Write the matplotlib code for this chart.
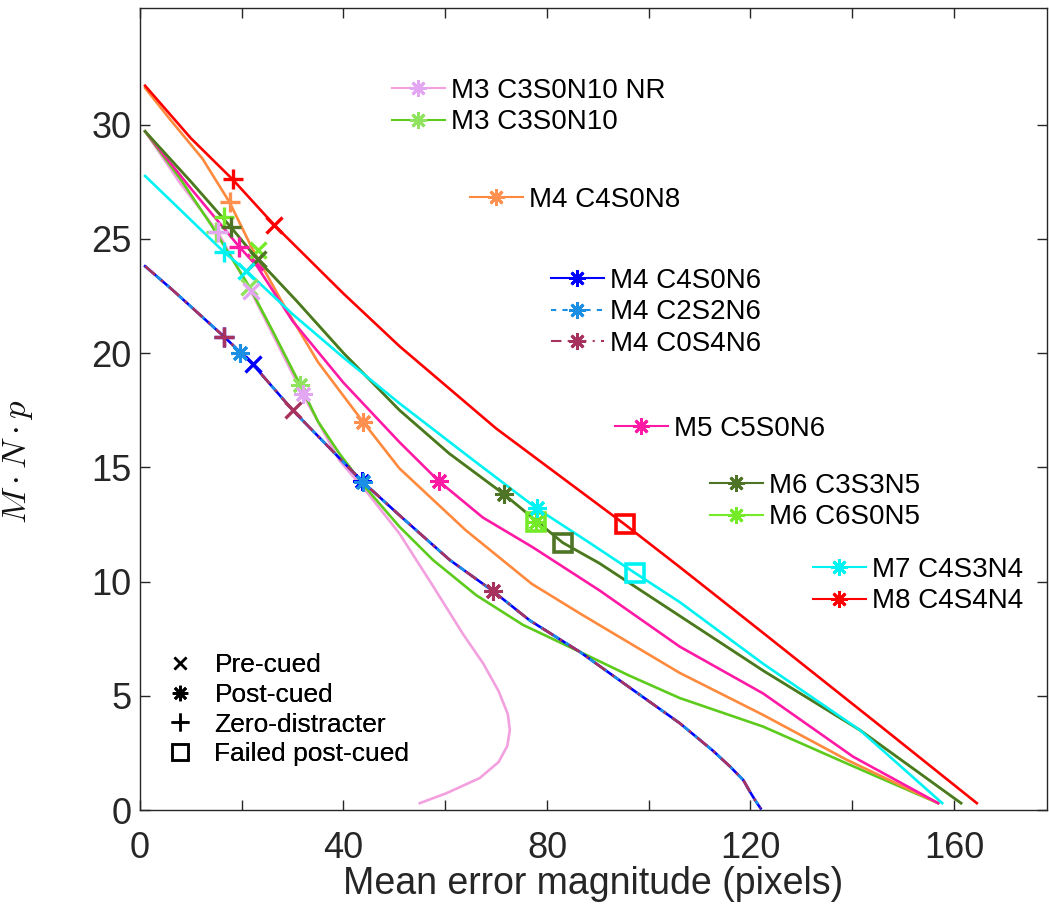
import matplotlib
matplotlib.use("Agg")
import matplotlib.pyplot as plt
from matplotlib.lines import Line2D

plt.rcParams["font.family"] = ["Liberation Sans", "DejaVu Sans"]
plt.rcParams["mathtext.fontset"] = "cm"

W, H = 1049, 919
ASTER = (8, 2, 0)   # 8-arm asterisk like MATLAB '*'

# ── curves: mean error (pixels) vs M*N*p ──────────────────────────
m3nr_x = [1, 8, 15.3, 22.5, 32, 39.2, 45, 51, 57.6, 63.5, 67.5, 70.5, 72.3, 72.7, 72.2, 70.5, 66.8, 60.2, 55]
m3nr_y = [29.7, 27.4, 25.3, 22.4, 18.2, 15.3, 13.8, 12.1, 9.8, 7.7, 6.4, 5.2, 4.2, 3.5, 2.8, 2.1, 1.4, 0.73, 0.3]

m3_x = [1, 8, 14, 21.5, 26, 31.5, 35, 39.2, 44, 51, 57.6, 66.1, 75.3, 86.4, 96, 106.1, 122.5, 138.9, 156.9]
m3_y = [29.7, 27.6, 25.6, 22.9, 21.0, 18.6, 17.0, 15.6, 14.2, 12.4, 10.94, 9.4, 8.1, 6.93, 5.9, 4.9, 3.65, 2.04, 0.3]

m4n8_x = [1, 6, 12.3, 17.6, 22, 28, 35, 43.8, 51, 64, 77, 86.5, 106.1, 122.5, 138.9, 156.9]
m4n8_y = [31.6, 30.2, 28.5, 26.6, 24.6, 22.2, 19.6, 17.0, 14.95, 12.25, 9.9, 8.6, 6.0, 4.16, 2.2, 0.3]

m4n6_x = [1, 6.4, 16.6, 22.2, 30, 43.6, 51, 60.9, 69.4, 76.6, 86.4, 96, 106.1, 112.6, 116, 118.6, 119.9, 121, 122]
m4c4_y = [23.8, 22.76, 20.7, 19.5, 17.5, 14.4, 12.9, 10.94, 9.58, 8.3, 6.93, 5.4, 3.8, 2.6, 1.9, 1.31, 0.8, 0.4, 0.07]
m4c2_y = [23.8, 22.76, 20.7, 19.5, 17.5, 14.4, 12.9, 10.94, 9.58, 8.3, 6.93, 5.4, 3.8, 2.6, 1.9, 1.31, 0.8, 0.4, 0.07]
m4c0_y = [23.8, 22.76, 20.7, 19.5, 17.5, 14.4, 12.9, 10.94, 9.58, 8.3, 6.93, 5.4, 3.8, 2.6, 1.9, 1.31, 0.8, 0.4, 0.07]

m5_x = [1, 10, 19.5, 23, 30, 40, 51, 58.7, 67.4, 77.2, 90.4, 106.1, 122.5, 140.2, 156.9]
m5_y = [29.7, 27.2, 24.65, 23.8, 21.4, 18.7, 16.1, 14.4, 12.8, 11.5, 9.6, 7.15, 5.1, 2.33, 0.3]

m6c6_x = [1, 10, 17.9, 23.1, 30.7, 40, 51, 60.8, 71.5, 83.1, 90.3, 106.4, 122.5, 141.5, 161.4]
m6c6_y = [29.7, 27.5, 25.5, 24.1, 22.3, 20.0, 17.5, 15.6, 13.83, 11.7, 10.8, 8.45, 6.1, 3.5, 0.3]

m6c3_x = [1, 10, 17.9, 23.1, 30.7, 40, 51, 60.8, 71.5, 83.1, 90.3, 106.4, 122.5, 141.5, 161.4]
m6c3_y = [29.7, 27.5, 25.5, 24.1, 22.3, 20.0, 17.5, 15.6, 13.83, 11.7, 10.8, 8.45, 6.1, 3.5, 0.3]

m7_x = [1, 8, 16.6, 20.9, 30, 40, 51, 65, 78, 88, 97.4, 106.1, 122.5, 141.5, 157.7]
m7_y = [27.75, 26.25, 24.4, 23.6, 21.7, 19.8, 17.8, 15.4, 13.2, 11.75, 10.36, 9.1, 6.4, 3.5, 0.3]

m8_x = [1, 10, 18.2, 26.4, 40, 51, 70, 95.3, 106, 122.5, 145.4, 164.5]
m8_y = [31.7, 29.4, 27.6, 25.6, 22.6, 20.3, 16.7, 12.5, 10.65, 7.75, 3.7, 0.3]

# ── condition markers: (x, y) points per series ──────────────────
# zero-distracter (+), pre-cued (x), post-cued (*), failed post-cued (square)
m3nr_zero, m3nr_pre, m3nr_post = [(15.3, 25.3)], [(21.8, 22.7)], [(32.0, 18.2)]
m3_zero, m3_pre, m3_post = [(15.0, 25.3)], [(21.5, 22.9)], [(31.5, 18.6)]
m4n8_zero, m4n8_post = [(17.6, 26.6)], [(43.8, 17.0)]
m4c4_zero, m4c4_pre, m4c4_post = [(16.6, 20.7)], [(22.2, 19.5)], [(43.6, 14.4)]
m4c2_post = [(19.6, 20.0), (43.8, 14.35)]
m4c0_zero, m4c0_pre, m4c0_post = [(16.6, 20.7)], [(30.0, 17.5)], [(69.4, 9.58)]
m5_zero, m5_pre, m5_post = [(19.5, 24.65)], [(22.6, 24.0)], [(58.7, 14.4)]
m6c6_zero, m6c6_pre, m6c6_post, m6c6_fail = [(16.6, 25.96)], [(23.1, 24.5)], [(77.9, 12.6)], [(77.9, 12.6)]
m6c3_zero, m6c3_pre, m6c3_post, m6c3_fail = [(17.9, 25.5)], [(23.1, 24.1)], [(71.5, 13.83)], [(83.1, 11.7)]
m7_zero, m7_pre, m7_post, m7_fail = [(16.6, 24.4)], [(20.9, 23.6)], [(78.0, 13.2)], [(97.4, 10.36)]
m8_zero, m8_pre, m8_fail = [(18.2, 27.6)], [(26.4, 25.6)], [(95.3, 12.5)]

labels = ["M3 C3S0N10 NR", "M3 C3S0N10", "M4 C4S0N8", "M4 C4S0N6", "M4 C2S2N6",
          "M4 C0S4N6", "M5 C5S0N6", "M6 C3S3N5", "M6 C6S0N5", "M7 C4S3N4", "M8 C4S4N4"]
marker_labels = ["Pre-cued", "Post-cued", "Zero-distracter", "Failed post-cued"]

x_ticks = list(range(0, 180, 20))
x_ticklabels = ["0", "", "40", "", "80", "", "120", "", "160"]
y_ticks = list(range(0, 35, 5))

# ── styles ───────────────────────────────────────────────────────
ST = {
    "M3 C3S0N10 NR": dict(lc="#F2A0DE", mc="#E2A6F2", ls="-"),
    "M3 C3S0N10":    dict(lc="#5CCB1C", mc="#8FE35E", ls="-"),
    "M4 C4S0N8":     dict(lc="#FF8A3D", mc="#FF904F", ls="-"),
    "M4 C4S0N6":     dict(lc="#0000FF", mc="#0000FF", ls="-"),
    "M4 C2S2N6":     dict(lc="#1A8FE3", mc="#1A8FE3", ls=(0, (2.5, 3))),
    "M4 C0S4N6":     dict(lc="#A8325E", mc="#A8325E", ls=(0, (5, 3, 1, 3))),
    "M5 C5S0N6":     dict(lc="#FF1AA6", mc="#FF1AA6", ls="-"),
    "M6 C3S3N5":     dict(lc="#4E7426", mc="#4E7426", ls="-"),
    "M6 C6S0N5":     dict(lc="#74EA28", mc="#74EA28", ls="-"),
    "M7 C4S3N4":     dict(lc="#00F2F2", mc="#00F2F2", ls="-"),
    "M8 C4S4N4":     dict(lc="#FF0000", mc="#FF0000", ls="-"),
}

curves = [
    ("M3 C3S0N10 NR", m3nr_x, m3nr_y),
    ("M3 C3S0N10", m3_x, m3_y),
    ("M4 C4S0N8", m4n8_x, m4n8_y),
    ("M4 C4S0N6", m4n6_x, m4c4_y),
    ("M4 C2S2N6", m4n6_x, m4c2_y),
    ("M4 C0S4N6", m4n6_x, m4c0_y),
    ("M5 C5S0N6", m5_x, m5_y),
    ("M6 C6S0N5", m6c6_x, m6c6_y),
    ("M6 C3S3N5", m6c3_x, m6c3_y),
    ("M7 C4S3N4", m7_x, m7_y),
    ("M8 C4S4N4", m8_x, m8_y),
]

marks = [
    ("M3 C3S0N10", m3_zero, m3_pre, m3_post, []),
    ("M3 C3S0N10 NR", m3nr_zero, m3nr_pre, m3nr_post, []),
    ("M4 C4S0N8", m4n8_zero, [], m4n8_post, []),
    ("M4 C4S0N6", m4c4_zero, m4c4_pre, m4c4_post, []),
    ("M4 C2S2N6", [], [], m4c2_post, []),
    ("M4 C0S4N6", m4c0_zero, m4c0_pre, m4c0_post, []),
    ("M5 C5S0N6", m5_zero, m5_pre, m5_post, []),
    ("M6 C6S0N5", m6c6_zero, m6c6_pre, m6c6_post, m6c6_fail),
    ("M6 C3S3N5", m6c3_zero, m6c3_pre, m6c3_post, m6c3_fail),
    ("M7 C4S3N4", m7_zero, m7_pre, m7_post, m7_fail),
    ("M8 C4S4N4", m8_zero, m8_pre, [], m8_fail),
]

fig = plt.figure(figsize=(W / 100, H / 100), dpi=100)
ax = fig.add_axes([140 / W, 1 - 810 / H, (1047 - 140) / W, (810 - 8) / H])

for name, xs, ys in curves:
    s = ST[name]
    ax.plot(xs, ys, color=s["lc"], ls=s["ls"], lw=1.9, zorder=2)


def _pts(ax, pts, marker, color, ms, mew, fill="none"):
    if not pts:
        return
    ax.plot([p[0] for p in pts], [p[1] for p in pts], ls="none", marker=marker,
            ms=ms, mew=mew, mec=color, mfc=fill, zorder=3)


for name, zero, pre, post, fail in marks:
    c = ST[name]["mc"]
    _pts(ax, fail, "s", c, 13, 2.6)
    _pts(ax, zero, "+", c, 14, 2.4)
    _pts(ax, pre, "x", c, 11, 2.4)
    _pts(ax, post, ASTER, c, 13, 2.2)

ax.set_xlim(0, 178.3)
ax.set_ylim(0, 35.1)
ax.set_xticks(x_ticks)
ax.set_xticklabels(x_ticklabels)
ax.set_yticks(y_ticks)
ax.tick_params(direction="in", length=7, width=1, top=True, right=True,
               labelsize=26, colors="#262626")
ax.tick_params(axis="x", pad=15)
ax.tick_params(axis="y", pad=6)
for sp in ax.spines.values():
    sp.set_color("#262626")
    sp.set_linewidth(1)

ax.set_xlabel("Mean error magnitude (pixels)", fontsize=27, color="#262626", labelpad=0)
ax.set_ylabel(r"$M \cdot N \cdot p$", fontsize=25, color="#111111")
ax.yaxis.set_label_coords((35 - 140) / 907, (810 - 462) / 802)


# ── scattered MATLAB-style legends ───────────────────────────────
def _legend(names, x_px, y_px, spacing=0.19):
    hs = []
    for n in names:
        s = ST[n]
        hs.append(Line2D([], [], color=s["lc"], ls=s["ls"], lw=1.5, marker=ASTER,
                         ms=12, mew=2, mec=s["mc"]))
    lg = ax.legend(hs, names, loc="upper left", bbox_to_anchor=(x_px / W, 1 - y_px / H),
                   bbox_transform=fig.transFigure, frameon=False, fontsize=20,
                   handlelength=1.9, handletextpad=0.22, labelspacing=spacing,
                   borderpad=0, borderaxespad=0, numpoints=1)
    ax.add_artist(lg)


_legend(labels[0:2], 392, 78)
_legend(labels[2:3], 470, 187)
_legend(labels[3:6], 551, 268)
_legend(labels[6:7], 615, 416)
_legend(labels[7:9], 710, 473)
_legend(labels[9:11], 813, 557)

mk_handles = [
    Line2D([], [], ls="none", marker="x", color="black", ms=9, mew=1.8),
    Line2D([], [], ls="none", marker=ASTER, color="black", ms=11, mew=1.8),
    Line2D([], [], ls="none", marker="+", color="black", ms=13, mew=1.8),
    Line2D([], [], ls="none", marker="s", color="black", mfc="none", ms=11, mew=1.8),
]
lg = ax.legend(mk_handles, marker_labels, loc="upper left",
               bbox_to_anchor=(167 / W, 1 - 653 / H), bbox_transform=fig.transFigure,
               frameon=False, fontsize=19, handlelength=1.0, handletextpad=0.8,
               labelspacing=0.22, borderpad=0, borderaxespad=0, numpoints=1)
ax.add_artist(lg)

fig.savefig("out.png", dpi=100)
